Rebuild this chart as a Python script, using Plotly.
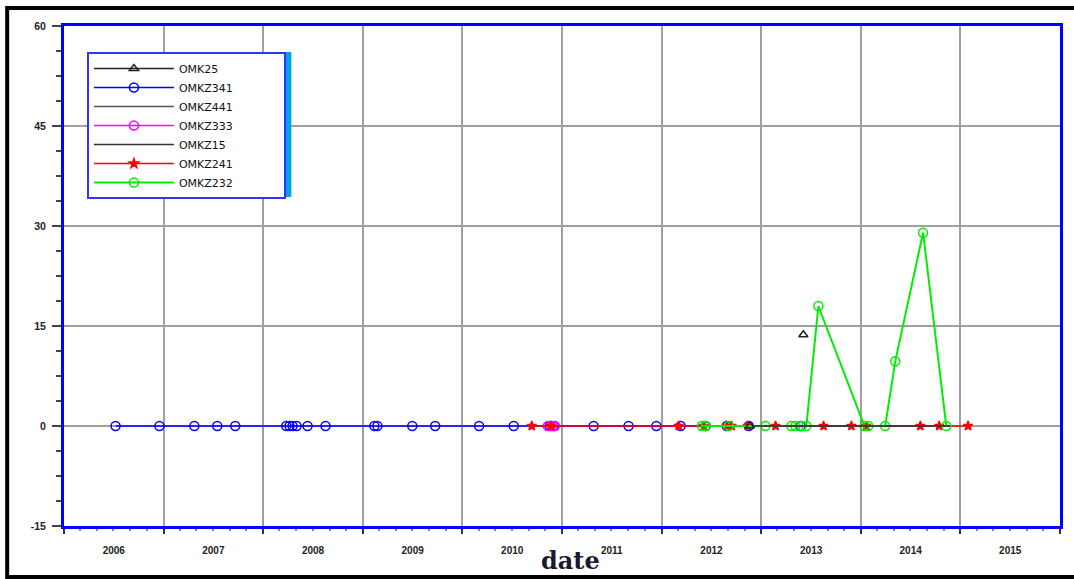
import plotly.graph_objects as go

# ---------------- data ----------------
omk25_dates = ["2012-11-20", "2013-03-01", "2013-06-04"]
omk25_vals = [0, None, 13.7]

omkz341_dates = ["2006-07-09", "2006-12-17", "2007-04-24", "2007-07-17", "2007-09-21",
                 "2008-03-26", "2008-04-07", "2008-04-18", "2008-05-03", "2008-06-12",
                 "2008-08-17", "2009-02-12", "2009-02-23", "2009-07-01", "2009-09-23",
                 "2010-03-03", "2010-07-08", "2010-11-17", "2010-12-02", "2011-04-27",
                 "2011-09-02", "2011-12-13", "2012-03-11", "2012-06-11", "2012-08-27",
                 "2012-11-16", "2013-05-25"]
omkz341_vals = [0, 0, 0, 0, 0, 0, 0, 0, 0, 0, 0, 0, 0, 0, 0, 0, 0, 0, 0, 0, 0, 0, 0, 0, 0, 0, 0]

omkz441_dates = ["2013-01-01", "2014-06-01"]
omkz441_vals = [0, 0]

omkz333_dates = ["2010-11-10", "2010-11-24", "2010-12-06"]
omkz333_vals = [0, 0, 0]

omkz15_dates = ["2012-11-27", "2013-06-01", "2014-01-01", "2014-11-24"]
omkz15_vals = [0, 0, 0, 0]

omkz241_dates = ["2010-09-12", "2010-11-21", "2012-03-04", "2012-06-04", "2012-08-27",
                 "2012-09-14", "2012-11-12", "2013-02-22", "2013-08-17", "2013-11-27",
                 "2014-01-21", "2014-08-07", "2014-10-15", "2015-01-29"]
omkz241_vals = [0, 0, 0, 0, 0, 0, 0, 0, 0, 0, 0, 0, 0, 0]

omkz232_dates = ["2012-05-28", "2012-06-11", "2012-09-03", "2013-01-16", "2013-04-21",
                 "2013-05-06", "2013-05-28", "2013-06-15", "2013-07-29", "2014-01-14",
                 "2014-01-28", "2014-03-31", "2014-05-07", "2014-08-17", "2014-11-10"]
omkz232_vals = [0, 0, 0, 0, 0, 0, 0, 0, 18, 0, 0, 0, 9.7, 29, 0]

y_ticks = [-15, 0, 15, 30, 45, 60]

# ---------------- figure ----------------
fig = go.Figure()
PAD = "\u00a0" * 13  # widens the legend box like the reference

def add(name, x, y, color, rank, symbol=None, msize=9, lw=1.5):
    mode = "lines+markers" if symbol else "lines"
    kw = dict(x=x, y=y, name=name + PAD, mode=mode, legendrank=rank,
              line=dict(color=color, width=lw), connectgaps=False)
    if symbol:
        kw["marker"] = dict(symbol=symbol, size=msize, color=color,
                            line=dict(color=color, width=1.5))
    fig.add_trace(go.Scatter(**kw))

add("OMKZ341", omkz341_dates, omkz341_vals, "#0000ff", 2, "circle-open")
add("OMKZ333", omkz333_dates, omkz333_vals, "#ff00ff", 4, "circle-open")
add("OMKZ241", omkz241_dates, omkz241_vals, "#ff0000", 6, "star", msize=7)
add("OMKZ232", omkz232_dates, omkz232_vals, "#00ee00", 7, "circle-open", lw=2)
add("OMKZ441", omkz441_dates, omkz441_vals, "#555555", 3)
add("OMKZ15", omkz15_dates, omkz15_vals, "#333333", 5)
add("OMK25", omk25_dates, omk25_vals, "#222222", 1, "triangle-up-open", msize=8)

L, R, T, B = 64, 11, 26, 53
W, H = 1074, 579
pw, ph = W - L - R, H - T - B

def px(xp):
    return (xp - L) / pw

def py(yp):
    return (H - B - yp) / ph

fig.update_layout(
    width=W, height=H,
    margin=dict(l=L, r=R, t=T, b=B),
    paper_bgcolor="white", plot_bgcolor="white",
    font=dict(family="Liberation Sans", color="#222222"),
    showlegend=True,
    legend=dict(x=px(87), y=py(52), xanchor="left", yanchor="top",
                bgcolor="white", bordercolor="#3333ff", borderwidth=2,
                font=dict(family="DejaVu Sans", size=11, color="#111111"),
                itemwidth=80, tracegroupgap=0),
    xaxis=dict(
        type="date", range=["2006-01-01", "2016-01-01"],
        tick0="2006-01-01", dtick="M12", tickformat="%Y", ticklabelmode="period",
        showgrid=True, gridcolor="#a0a0a0", gridwidth=2,
        ticks="outside", ticklen=5, tickcolor="#333333", tickwidth=2,
        ticklabelstandoff=8,
        tickfont=dict(family="Liberation Sans", size=10, color="#222222", weight="bold"),
        minor=dict(dtick="M2", ticks="outside", ticklen=2, tickcolor="#888888", showgrid=False),
        showline=True, linecolor="#0000ff", linewidth=3, mirror=True,
        zeroline=False,
    ),
    yaxis=dict(
        range=[-15, 60], tickvals=y_ticks, ticktext=[str(v) for v in y_ticks],
        showgrid=True, gridcolor="#a0a0a0", gridwidth=2,
        ticks="outside", ticklen=9, tickcolor="#444444", tickwidth=1.5,
        ticklabelstandoff=4,
        tickfont=dict(family="Liberation Sans", size=10.5, color="#222222", weight="bold"),
        minor=dict(dtick=3.75, tick0=0, ticks="outside", ticklen=5, tickcolor="#444444", showgrid=False),
        showline=True, linecolor="#0000ff", linewidth=3, mirror=True,
        zeroline=False,
    ),
    shapes=[
        dict(type="rect", xref="paper", yref="paper",
             x0=px(7), x1=px(1090), y0=py(577), y1=py(8),
             line=dict(color="black", width=4), fillcolor="rgba(0,0,0,0)", layer="above"),
        dict(type="rect", xref="paper", yref="paper",
             x0=px(284), x1=px(292), y0=py(197), y1=py(52),
             line=dict(width=0), fillcolor="#00a2e8", layer="above"),
    ],
    annotations=[
        dict(text="<b>date</b>", xref="paper", yref="paper",
             x=px(572), y=py(560), xanchor="center", yanchor="middle",
             showarrow=False, font=dict(family="DejaVu Serif", size=24, color="#1a1a2a")),
    ],
)

fig.write_html("out.html")
